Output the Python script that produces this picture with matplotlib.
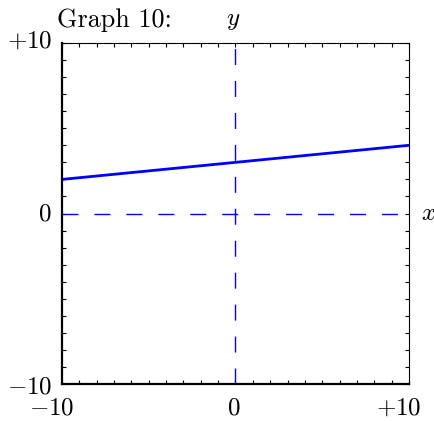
import matplotlib
matplotlib.use("Agg")
import matplotlib.pyplot as plt
from matplotlib.ticker import MultipleLocator
from matplotlib.transforms import offset_copy

plt.rcParams['mathtext.fontset'] = 'cm'

# data
line_x = [-10, 10]
line_y = [2, 4]
x_ticks = [-10, 0, 10]
x_tick_labels = [r'$-10$', r'$0$', r'$+10$']
y_ticks = [-10, 0, 10]
y_tick_labels = [r'$-10$', r'$0$', r'$+10$']
title = "Graph 10:"

fs = 18

fig = plt.figure(figsize=(4.35, 4.21), dpi=100)
ax = fig.add_axes([62 / 435, 37 / 421, 347 / 435, 341 / 421])

# dashed axes through origin
ax.plot([-10, 10], [0, 0], color='#0000ff', lw=1.0, linestyle=(0, (11.5, 11.5)))
ax.plot([0, 0], [-10, 10], color='#0000ff', lw=1.0, linestyle=(0, (11.5, 11.5)))

# the function
ax.plot(line_x, line_y, color='#0000ff', lw=2.0, solid_capstyle='butt')

ax.set_xlim(-10, 10)
ax.set_ylim(-10, 10)
ax.xaxis.set_major_locator(MultipleLocator(1))
ax.yaxis.set_major_locator(MultipleLocator(1))
ax.tick_params(direction='in', length=3, width=0.8, top=True, right=True,
               labelbottom=False, labelleft=False)
ax.spines['left'].set_linewidth(1.6)
ax.spines['bottom'].set_linewidth(1.6)
ax.spines['top'].set_linewidth(0.8)
ax.spines['right'].set_linewidth(0.8)

# x tick labels: digits centred on the tick, sign hangs to the left
for v, lab in zip(x_ticks, x_tick_labels):
    if v == 0:
        tr = offset_copy(ax.get_xaxis_transform(), fig=fig, x=-1.5, y=-22.3, units='points')
        ax.text(v, 0, lab, transform=tr, ha='center', va='baseline', fontsize=fs)
    else:
        tr = offset_copy(ax.get_xaxis_transform(), fig=fig, x=0.5 * fs, y=-22.3, units='points')
        ax.text(v, 0, lab, transform=tr, ha='right', va='baseline', fontsize=fs)

# y tick labels
for v, lab in zip(y_ticks, y_tick_labels):
    dy = 2 if v > 0 else (-2 if v < 0 else 0)
    tr = offset_copy(ax.get_yaxis_transform(), fig=fig, x=-7.2, y=dy, units='points')
    ax.text(0, v, lab, transform=tr, ha='right', va='center', fontsize=fs)

# axis names
tr = offset_copy(ax.get_xaxis_transform(), fig=fig, x=-2, y=13, units='points')
ax.text(0, 1, r'$y$', transform=tr, ha='center', va='baseline', fontsize=fs)
tr = offset_copy(ax.get_yaxis_transform(), fig=fig, x=8.4, y=0, units='points')
ax.text(1, 0, r'$x$', transform=tr, ha='left', va='center', fontsize=fs)

fig.text(57 / 435, 394 / 421, title, fontfamily='cmr10', fontsize=18.8,
         ha='left', va='baseline')

fig.savefig('out.png', dpi=100)
